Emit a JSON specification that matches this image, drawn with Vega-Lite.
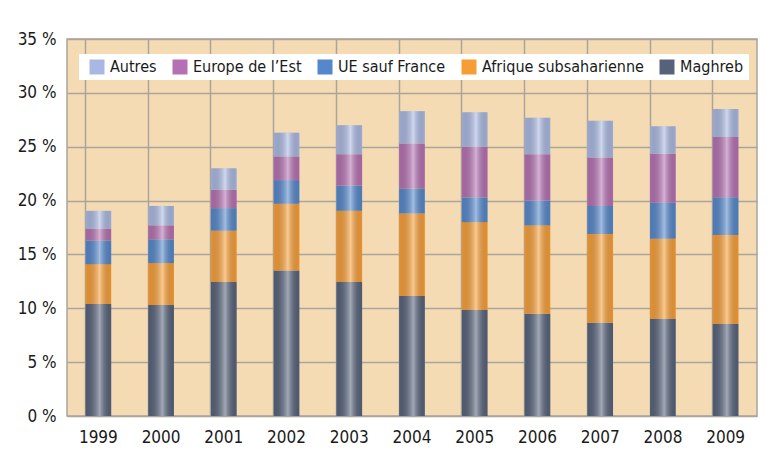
{
  "$schema": "https://vega.github.io/schema/vega-lite/v6.json",
  "width": 690,
  "height": 377,
  "autosize": "none",
  "padding": {"left": 67, "top": 39, "right": 17, "bottom": 49},
  "background": "#ffffff",
  "data": {"values": [
    {"annee": "1999", "serie": "Maghreb", "valeur": 10.4},
    {"annee": "1999", "serie": "Afrique subsaharienne", "valeur": 3.7},
    {"annee": "1999", "serie": "UE sauf France", "valeur": 2.2},
    {"annee": "1999", "serie": "Europe de l’Est", "valeur": 1.1},
    {"annee": "1999", "serie": "Autres", "valeur": 1.65},
    {"annee": "2000", "serie": "Maghreb", "valeur": 10.3},
    {"annee": "2000", "serie": "Afrique subsaharienne", "valeur": 3.9},
    {"annee": "2000", "serie": "UE sauf France", "valeur": 2.2},
    {"annee": "2000", "serie": "Europe de l’Est", "valeur": 1.3},
    {"annee": "2000", "serie": "Autres", "valeur": 1.8},
    {"annee": "2001", "serie": "Maghreb", "valeur": 12.45},
    {"annee": "2001", "serie": "Afrique subsaharienne", "valeur": 4.75},
    {"annee": "2001", "serie": "UE sauf France", "valeur": 2.1},
    {"annee": "2001", "serie": "Europe de l’Est", "valeur": 1.7},
    {"annee": "2001", "serie": "Autres", "valeur": 2.0},
    {"annee": "2002", "serie": "Maghreb", "valeur": 13.5},
    {"annee": "2002", "serie": "Afrique subsaharienne", "valeur": 6.2},
    {"annee": "2002", "serie": "UE sauf France", "valeur": 2.2},
    {"annee": "2002", "serie": "Europe de l’Est", "valeur": 2.2},
    {"annee": "2002", "serie": "Autres", "valeur": 2.2},
    {"annee": "2003", "serie": "Maghreb", "valeur": 12.45},
    {"annee": "2003", "serie": "Afrique subsaharienne", "valeur": 6.6},
    {"annee": "2003", "serie": "UE sauf France", "valeur": 2.35},
    {"annee": "2003", "serie": "Europe de l’Est", "valeur": 2.9},
    {"annee": "2003", "serie": "Autres", "valeur": 2.7},
    {"annee": "2004", "serie": "Maghreb", "valeur": 11.15},
    {"annee": "2004", "serie": "Afrique subsaharienne", "valeur": 7.65},
    {"annee": "2004", "serie": "UE sauf France", "valeur": 2.3},
    {"annee": "2004", "serie": "Europe de l’Est", "valeur": 4.2},
    {"annee": "2004", "serie": "Autres", "valeur": 3.0},
    {"annee": "2005", "serie": "Maghreb", "valeur": 9.85},
    {"annee": "2005", "serie": "Afrique subsaharienne", "valeur": 8.15},
    {"annee": "2005", "serie": "UE sauf France", "valeur": 2.3},
    {"annee": "2005", "serie": "Europe de l’Est", "valeur": 4.7},
    {"annee": "2005", "serie": "Autres", "valeur": 3.2},
    {"annee": "2006", "serie": "Maghreb", "valeur": 9.5},
    {"annee": "2006", "serie": "Afrique subsaharienne", "valeur": 8.2},
    {"annee": "2006", "serie": "UE sauf France", "valeur": 2.3},
    {"annee": "2006", "serie": "Europe de l’Est", "valeur": 4.3},
    {"annee": "2006", "serie": "Autres", "valeur": 3.4},
    {"annee": "2007", "serie": "Maghreb", "valeur": 8.65},
    {"annee": "2007", "serie": "Afrique subsaharienne", "valeur": 8.25},
    {"annee": "2007", "serie": "UE sauf France", "valeur": 2.6},
    {"annee": "2007", "serie": "Europe de l’Est", "valeur": 4.5},
    {"annee": "2007", "serie": "Autres", "valeur": 3.4},
    {"annee": "2008", "serie": "Maghreb", "valeur": 9.0},
    {"annee": "2008", "serie": "Afrique subsaharienne", "valeur": 7.45},
    {"annee": "2008", "serie": "UE sauf France", "valeur": 3.35},
    {"annee": "2008", "serie": "Europe de l’Est", "valeur": 4.55},
    {"annee": "2008", "serie": "Autres", "valeur": 2.55},
    {"annee": "2009", "serie": "Maghreb", "valeur": 8.55},
    {"annee": "2009", "serie": "Afrique subsaharienne", "valeur": 8.25},
    {"annee": "2009", "serie": "UE sauf France", "valeur": 3.5},
    {"annee": "2009", "serie": "Europe de l’Est", "valeur": 5.6},
    {"annee": "2009", "serie": "Autres", "valeur": 2.6}
  ]},
  "transform": [
    {"calculate": "indexof(['Maghreb', 'Afrique subsaharienne', 'UE sauf France', 'Europe de l’Est', 'Autres'], datum.serie)", "as": "ordre"}
  ],
  "encoding": {
    "x": {
      "field": "annee", "type": "nominal", "title": null,
      "scale": {"paddingInner": 0.59, "paddingOuter": 0.295},
      "axis": {"labelAngle": 0, "ticks": false, "domain": false, "grid": true, "bandPosition": 0,
               "labelPadding": 13, "labelFontSize": 17, "labelFont": "DejaVu Sans Condensed", "labelColor": "#1a1a1a",
               "gridColor": "#aaa49a", "gridWidth": 1.5}
    },
    "y": {
      "field": "valeur", "type": "quantitative", "aggregate": "sum", "title": null,
      "scale": {"domain": [0, 35]},
      "axis": {"values": [0, 5, 10, 15, 20, 25, 30, 35], "labelExpr": "datum.value + ' %'", "ticks": false, "domain": false,
               "labelPadding": 11, "labelFontSize": 17, "labelFont": "DejaVu Sans Condensed", "labelColor": "#1a1a1a",
               "gridColor": "#aaa49a", "gridWidth": 1.5}
    },
    "order": {"field": "ordre", "type": "quantitative", "sort": "ascending"}
  },
  "layer": [
    {
      "mark": {"type": "bar"},
      "encoding": {
        "color": {
          "field": "serie", "type": "nominal", "title": null,
          "sort": ["Autres", "Europe de l’Est", "UE sauf France", "Afrique subsaharienne", "Maghreb"],
          "scale": {"domain": ["Autres", "Europe de l’Est", "UE sauf France", "Afrique subsaharienne", "Maghreb"],
                    "range": ["#a9b8e2", "#b470b2", "#5487cb", "#f79d35", "#56627a"]},
          "legend": {"orient": "none", "legendX": 12, "legendY": 15, "direction": "horizontal",
                     "fillColor": "#ffffff", "padding": 5, "symbolType": "square", "symbolSize": 225,
                     "symbolStrokeWidth": 0, "labelFontSize": 16, "labelFont": "DejaVu Sans Condensed", "labelColor": "#1a1a1a",
                     "labelLimit": 0, "labelOffset": 5, "columnPadding": 10, "symbolOffset": 5}
        }
      }
    },
    {
      "mark": {"type": "bar", "fill": {"gradient": "linear", "x1": 0, "x2": 1, "y1": 0, "y2": 0,
        "stops": [
          {"offset": 0, "color": "rgba(0,0,0,0.07)"},
          {"offset": 0.55, "color": "rgba(255,255,255,0.45)"},
          {"offset": 1, "color": "rgba(0,0,0,0.07)"}
        ]}},
      "encoding": {
        "detail": {"field": "serie", "type": "nominal"}
      }
    }
  ],
  "config": {
    "view": {"fill": "#f5dbb3", "stroke": "#aaa49a", "strokeWidth": 1.5}
  }
}
